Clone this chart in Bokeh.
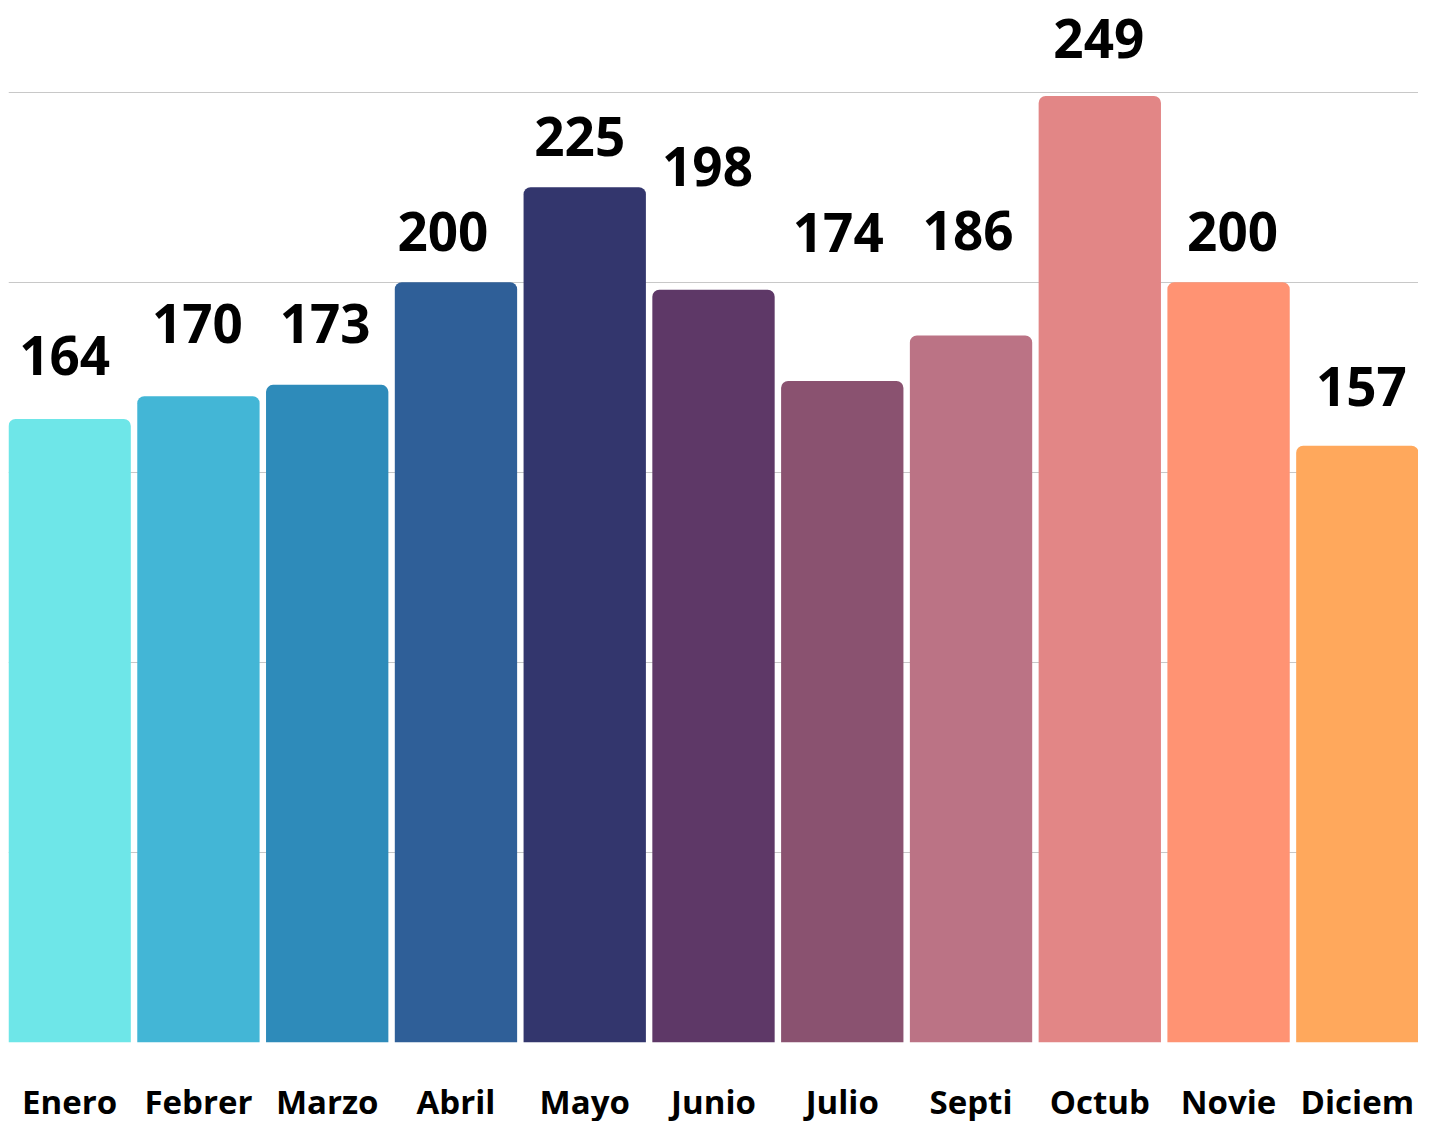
from bokeh.plotting import figure
from bokeh.models import ColumnDataSource, Range1d, FixedTicker
from bokeh.core.properties import value
from bokeh.embed import file_html
from bokeh.resources import INLINE

# ---- data ----
months = ["Enero", "Febrer", "Marzo", "Abril", "Mayo", "Junio",
          "Julio", "Septi", "Octub", "Novie", "Diciem"]
counts = [164, 170, 173, 200, 225, 198, 174, 186, 249, 200, 157]
bar_colors = ["#6ee6e8", "#43b6d6", "#2e8bba", "#2f5f98", "#33366d", "#5e3867",
              "#8a5270", "#bb7385", "#e28686", "#ff9373", "#ffa85c"]
# placement of each value label relative to its bar top (pixels, style only)
label_lift = [64, 73, 61, 51, 51, 123, 149, 105, 57, 51, 59]
label_shift = [-5, -1, -2, -13, -5, -6, -4, -3, -1, 4, 4]
y_ticks = [0, 50, 100, 150, 200, 250]

xs = list(range(len(months)))
src = ColumnDataSource(dict(
    x=xs, top=counts, color=bar_colors,
    label=[str(c) for c in counts],
    yoff=[-l for l in label_lift],
    xoff=label_shift,
))

p = figure(frame_width=1410, frame_height=1042,
           x_range=Range1d(-0.475, len(months) - 0.525),
           y_range=Range1d(0, 274.1),
           output_backend="svg", toolbar_location=None,
           min_border=0, min_border_left=8, min_border_right=0,
           min_border_top=0, min_border_bottom=0)
p.outline_line_color = None
p.background_fill_color = "white"
p.border_fill_color = "white"

p.vbar(x="x", top="top", bottom=0, width=0.95, fill_color="color",
       line_color=None, border_radius=(7, 7, 0, 0), source=src)

p.text(x="x", y="top", text="label", x_offset="xoff", y_offset="yoff", source=src,
       text_align="center", text_baseline="middle",
       text_font=value("Open Sans"), text_font_style="bold",
       text_font_size="53px", text_color="#000000")

p.yaxis.visible = False
p.yaxis.ticker = FixedTicker(ticks=y_ticks)
p.ygrid.ticker = FixedTicker(ticks=y_ticks)
p.ygrid.grid_line_color = "#c8c8c8"
p.ygrid.grid_line_width = 1
p.xgrid.grid_line_color = None

p.xaxis.ticker = FixedTicker(ticks=xs)
p.xaxis.major_label_overrides = {i: m for i, m in enumerate(months)}
p.xaxis.axis_line_color = None
p.xaxis.major_tick_line_color = None
p.xaxis.minor_tick_line_color = None
p.xaxis.major_label_standoff = 30
p.xaxis.major_label_text_font = "Open Sans"
p.xaxis.major_label_text_font_style = "bold"
p.xaxis.major_label_text_font_size = "33px"
p.xaxis.major_label_text_color = "#000000"

open("out.html", "w").write(file_html(p, INLINE))
